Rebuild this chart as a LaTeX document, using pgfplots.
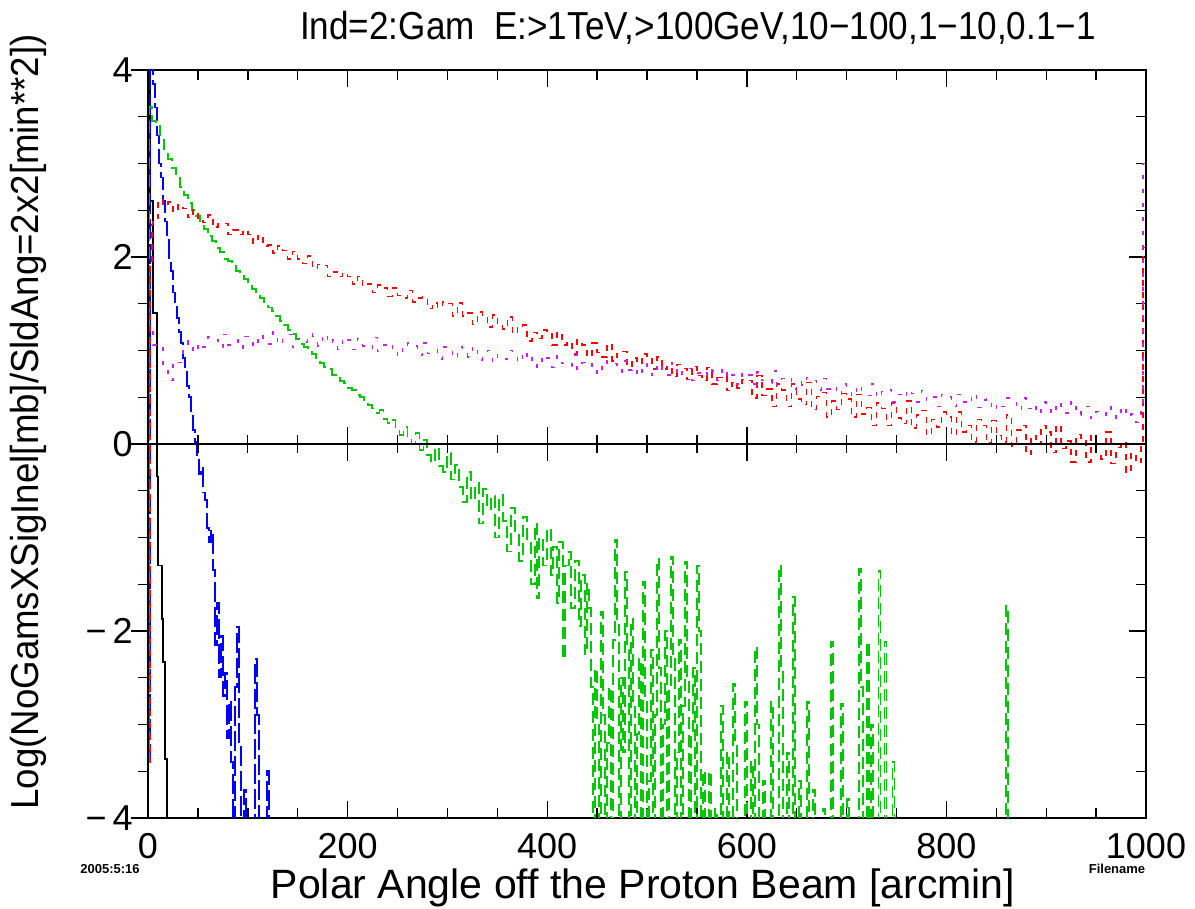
\documentclass[border=0pt]{standalone}
\usepackage{fontspec}
\setmainfont{Liberation Sans}
\usepackage{graphicx}
\usepackage{pgfplots}
\pgfplotsset{compat=1.18}
\definecolor{cred}{RGB}{255,0,0}
\definecolor{cgreen}{RGB}{0,200,0}
\definecolor{cblue}{RGB}{0,0,255}
\definecolor{cmag}{RGB}{200,30,240}
\pgfplotsset{
  base/.style={width=499pt,height=374pt,scale only axis,
    xmin=0,xmax=1000,ymin=-4,ymax=4,
    xtick={0,200,...,1000}, ytick={-4,-2,0,2,4},
    minor x tick num=3, minor y tick num=3,
    major tick length=8.5pt, minor tick length=5pt,
    tick style={black,line width=0.7pt},
    axis line style={line width=1pt}},
}
\begin{document}
\begin{tikzpicture}
\begin{axis}[base, name=ax, tick align=inside, xtick pos=both, ytick pos=right,
  yticklabels={}, xticklabels={0,200,400,600,800,1000},
  xticklabel style={font=\fontsize{18}{18}\selectfont, anchor=center, yshift=-14pt},
  every axis plot/.append style={line width=0.75pt, const plot}]
% >1 TeV
\addplot[black] coordinates {(0,4.6)(2,2.6)(5,1.4)(9,-0.35)(10,-1.3)(14,-1.87)(15,-2.33)(17,-3.37)(19,-5)(20,-5)};
% >100 GeV
\addplot[cblue, dash pattern=on 10pt off 2.5pt] coordinates {
(0,-3.4)(2,4.5)(5,3.85)(7,3.6)(9,3.3)(11,3.0)(13,2.85)(15,2.6)(17,2.38)(19,2.2)(21,1.98)(23,1.85)(25,1.62)(27,1.47)(29,1.35)(31,1.2)(33,1.08)(35,0.92)(37,0.8)(39,0.62)(41,0.5)(43,0.33)(45,0.15)(47,0.02)(49,-0.14)(51,-0.32)(53,-0.25)(55,-0.52)(57,-0.6)(59,-0.9)(61,-1.05)(63,-0.93)(65,-1.35)(67,-2.15)(69,-1.7)(71,-2.5)(73,-2.05)(75,-2.7)(77,-2.45)(79,-3.15)(81,-2.75)(83,-3.4)(85,-5)(87,-2.6)(89,-1.95)(91,-3.2)(93,-5)(96,-3.7)(98,-5)(107,-2.3)(109,-2.9)(111,-5)(119,-3.5)(121,-5)(122,-5)};
% 10-100 GeV
\addplot[cgreen, line width=0.95pt, dash pattern=on 6pt off 3pt] coordinates {
(0,-3.4)(1,3.6)(4,3.45)(8,3.4)(12,3.3)(16,3.15)(20,3.05)(24,2.95)(28,2.87)(32,2.75)(36,2.66)(40,2.58)(44,2.5)(48,2.44)(52,2.38)(56,2.3)(60,2.22)(64,2.17)(68,2.1)(72,2.05)(76,1.98)(80,1.96)(84,1.9)(88,1.85)(92,1.82)(96,1.76)(100,1.72)(104,1.66)(108,1.62)(112,1.56)(116,1.52)(120,1.46)(124,1.42)(128,1.37)(132,1.32)(136,1.27)(140,1.22)(144,1.18)(148,1.12)(152,1.07)(156,1.04)(160,0.98)(164,0.96)(168,0.9)(172,0.87)(176,0.82)(180,0.8)(184,0.74)(188,0.72)(192,0.67)(196,0.65)(200,0.6)(204,0.58)(208,0.52)(212,0.5)(216,0.45)(220,0.42)(224,0.38)(228,0.33)(232,0.36)(236,0.27)(240,0.22)(244,0.26)(248,0.14)(252,0.1)(256,0.18)(260,0.04)(264,0.0)(268,0.12)(272,-0.06)(276,0.04)(280,-0.12)(284,-0.2)(288,-0.04)(292,-0.24)(296,-0.3)(300,-0.1)(304,-0.38)(308,-0.22)(312,-0.46)(316,-0.62)(320,-0.3)(324,-0.6)(328,-0.42)(332,-0.85)(336,-0.48)(340,-0.7)(344,-0.56)(348,-1.0)(352,-0.55)(356,-0.82)(360,-1.15)(364,-0.68)(368,-0.95)(372,-1.25)(376,-0.78)(380,-1.05)(384,-1.5)(388,-0.85)(390,-1.65)(392,-1.0)(396,-1.3)(400,-0.9)(404,-1.4)(406,-1.1)(410,-1.7)(412,-1.05)(416,-2.3)(418,-1.3)(422,-1.15)(424,-1.75)(428,-1.25)(432,-1.95)(434,-1.4)(438,-2.25)(440,-1.5)(442,-1.75)(444,-2.6)
(446,-5)(448,-2.4)(450,-3.0)(452,-5)(454,-1.8)(456,-2.9)(458,-5)(460,-3.2)(462,-2.6)(464,-5)(466,-2.1)(468,-1.03)(470,-1.9)(472,-5)(474,-2.5)(476,-3.3)(478,-1.37)(480,-2.2)(482,-5)(484,-1.87)(486,-2.8)(488,-5)(490,-3.1)(492,-2.3)(494,-5)(496,-1.48)(498,-2.7)(500,-5)(502,-3.6)(504,-2.2)(506,-5)(508,-2.9)(510,-1.23)(512,-2.4)(514,-5)(516,-3.0)(518,-2.0)(520,-5)(522,-2.6)(524,-1.21)(526,-2.3)(528,-5)(530,-3.3)(532,-2.1)(534,-5)(536,-2.8)(538,-1.26)(540,-2.5)(542,-5)(544,-3.1)(546,-2.4)(548,-5)(550,-1.3)(552,-2.0)(554,-5)(556,-3.5)(558,-5)(562,-3.5)(564,-5)(568,-3.9)(570,-5)(574,-2.8)(576,-5)(580,-3.3)(582,-5)(586,-2.57)(588,-3.2)(590,-5)(598,-2.76)(600,-5)(604,-3.4)(606,-5)(608,-2.17)(610,-3.0)(612,-5)(616,-3.6)(618,-5)(624,-2.76)(626,-5)(632,-1.3)(634,-2.4)(636,-5)(640,-3.3)(642,-5)(646,-1.64)(648,-5)(652,-3.6)(654,-5)(660,-2.76)(662,-5)(666,-3.7)(668,-5)(676,-3.9)(678,-5)(684,-2.12)(686,-5)(694,-2.78)(696,-5)(700,-3.8)(702,-5)(712,-1.34)(714,-2.6)(716,-5)(720,-2.12)(722,-5)(724,-3.0)(726,-5)(732,-1.36)(734,-5)(738,-2.12)(740,-5)(746,-3.4)(748,-5)(860,-1.73)(862,-5)(870,-5)};
% 1-10 GeV
\addplot[cred, dash pattern=on 3pt off 3pt] coordinates {
(0,-3.4)(2,1.9)(4,2.35)(5,2.41)(10,2.61)(15,2.55)(20,2.59)(25,2.49)(30,2.56)(35,2.52)(40,2.42)(45,2.50)(50,2.41)(55,2.37)(60,2.45)(65,2.32)(70,2.36)(75,2.36)(80,2.24)(85,2.29)(90,2.24)(95,2.28)(100,2.24)(105,2.15)(110,2.23)(115,2.12)(120,2.13)(125,2.04)(130,2.12)(135,2.07)(140,1.98)(145,2.06)(150,1.98)(155,1.93)(160,2.01)(165,1.88)(170,1.92)(175,1.91)(180,1.79)(185,1.84)(190,1.79)(195,1.83)(200,1.79)(205,1.71)(210,1.79)(215,1.69)(220,1.71)(225,1.62)(230,1.70)(235,1.67)(240,1.58)(245,1.67)(250,1.59)(255,1.56)(260,1.64)(265,1.52)(270,1.56)(275,1.57)(280,1.45)(285,1.51)(290,1.46)(295,1.52)
(300,1.50)(305,1.37)(310,1.51)(315,1.37)(320,1.40)(325,1.28)(330,1.41)(335,1.37)(340,1.25)(345,1.38)(350,1.28)(355,1.23)(360,1.36)(365,1.18)(370,1.26)(375,1.27)(380,1.10)(385,1.19)(390,1.13)(395,1.22)(400,1.18)(405,1.06)(410,1.19)(415,1.06)(420,1.09)(425,0.97)(430,1.11)(435,1.06)(440,0.94)(445,1.08)(450,0.98)(455,0.93)(460,1.07)(465,0.89)(470,0.97)(475,0.99)(480,0.83)(485,0.92)(490,0.86)(495,0.96)(500,0.92)(505,0.80)(510,0.93)(515,0.80)(520,0.83)(525,0.72)(530,0.85)(535,0.81)(540,0.69)(545,0.83)(550,0.73)(555,0.68)(560,0.82)(565,0.64)(570,0.71)(575,0.73)(580,0.57)(585,0.66)(590,0.60)(595,0.69)
(600,0.68)(605,0.49)(610,0.73)(615,0.52)(620,0.59)(625,0.40)(630,0.64)(635,0.58)(640,0.40)(645,0.64)(650,0.48)(655,0.42)(660,0.66)(665,0.37)(670,0.51)(675,0.55)(680,0.29)(685,0.46)(690,0.37)(695,0.54)(700,0.48)(705,0.29)(710,0.53)(715,0.32)(720,0.39)(725,0.20)(730,0.44)(735,0.38)(740,0.20)(745,0.44)(750,0.28)(755,0.22)(760,0.46)(765,0.17)(770,0.31)(775,0.36)(780,0.10)(785,0.26)(790,0.18)(795,0.34)(800,0.29)(805,0.10)(810,0.34)(815,0.13)(820,0.20)(825,0.02)(830,0.26)(835,0.20)(840,0.01)(845,0.25)
(850,0.09)(855,0.02)(860,0.31)(865,-0.02)(870,0.15)(875,0.20)(880,-0.11)(885,0.09)(890,0.00)(895,0.20)(900,0.13)(905,-0.09)(910,0.20)(915,-0.05)(920,0.03)(925,-0.19)(930,0.10)(935,0.03)(940,-0.19)(945,0.10)(950,-0.09)(955,-0.16)(960,0.13)(965,-0.21)(970,-0.04)(975,0.01)(980,-0.30)(985,-0.10)(990,-0.20)(995,0.00)(997,2.1)(1000,2.1)};
% 0.1-1 GeV
\addplot[cmag, dash pattern=on 2pt off 5pt] coordinates {
(0,-3.4)(1,1.2)(5,1.06)(10,1.07)(15,0.84)(20,0.68)(25,0.89)(30,0.87)(35,1.01)(40,1.10)(45,0.98)(50,1.08)(55,1.04)(60,1.15)(65,1.12)(70,1.03)(75,1.17)(80,1.06)(85,1.11)(90,1.02)(95,1.15)(100,1.13)(105,1.04)(110,1.17)(115,1.09)(120,1.07)(125,1.20)(130,1.06)(135,1.14)(140,1.17)(145,1.04)(150,1.13)(155,1.09)(160,1.18)(165,1.15)(170,1.05)(175,1.18)(180,1.07)(185,1.11)(190,1.01)(195,1.14)(200,1.11)(205,1.01)(210,1.13)(215,1.05)(220,1.02)(225,1.14)(230,0.99)(235,1.06)(240,1.08)(245,0.95)(250,1.03)(255,0.99)(260,1.08)(265,1.05)(270,0.95)(275,1.08)(280,0.97)(285,1.01)(290,0.91)(295,1.04)
(300,1.01)(305,0.91)(310,1.04)(315,0.96)(320,0.93)(325,1.05)(330,0.90)(335,0.98)(340,1.00)(345,0.87)(350,0.95)(355,0.91)(360,1.00)(365,0.96)(370,0.87)(375,0.99)(380,0.88)(385,0.92)(390,0.82)(395,0.95)(400,0.92)(405,0.82)(410,0.94)(415,0.86)(420,0.83)(425,0.95)(430,0.80)(435,0.87)(440,0.89)(445,0.76)(450,0.84)(455,0.80)(460,0.89)(465,0.86)(470,0.77)(475,0.89)(480,0.79)(485,0.82)(490,0.73)(495,0.86)(500,0.83)(505,0.73)(510,0.86)(515,0.77)(520,0.74)(525,0.87)(530,0.72)(535,0.79)(540,0.81)(545,0.68)(550,0.76)(555,0.72)(560,0.81)(565,0.78)(570,0.68)(575,0.81)(580,0.70)(585,0.74)(590,0.64)(595,0.77)
(600,0.74)(605,0.64)(610,0.77)(615,0.68)(620,0.65)(625,0.78)(630,0.63)(635,0.70)(640,0.72)(645,0.59)(650,0.67)(655,0.63)(660,0.71)(665,0.68)(670,0.58)(675,0.70)(680,0.59)(685,0.62)(690,0.52)(695,0.64)(700,0.61)(705,0.51)(710,0.63)(715,0.55)(720,0.52)(725,0.64)(730,0.49)(735,0.56)(740,0.58)(745,0.45)(750,0.53)(755,0.49)(760,0.58)(765,0.54)(770,0.45)(775,0.57)(780,0.46)(785,0.50)(790,0.40)(795,0.53)(800,0.50)(805,0.40)(810,0.53)(815,0.45)(820,0.42)(825,0.54)(830,0.39)(835,0.47)(840,0.49)(845,0.36)(850,0.44)(855,0.40)(860,0.49)(865,0.46)(870,0.36)(875,0.49)(880,0.38)(885,0.42)(890,0.32)(895,0.45)(900,0.42)(905,0.32)(910,0.45)(915,0.36)(920,0.33)(925,0.46)(930,0.31)(935,0.38)(940,0.40)(945,0.27)(950,0.35)(955,0.31)(960,0.40)(965,0.37)(970,0.27)(975,0.40)(980,0.29)(985,0.32)(990,0.23)(995,0.35)(997,3.0)(1000,3.0)};
\end{axis}
% left y axis: outward ticks and labels
\begin{axis}[base, hide x axis, ytick pos=left, tick align=outside,
  yticklabels={−\,4,−\,2,0,2,4},
  yticklabel style={font=\fontsize{18}{18}\selectfont, anchor=east, inner sep=0pt, xshift=1pt}]
\end{axis}
% zero line with crossing ticks
\begin{axis}[base, axis x line=middle, axis y line=none, ytick=\empty,
  axis line style={-, line width=0.8pt}, tick align=center,
  major tick length=17pt, minor tick length=9pt, xticklabels={}]
\end{axis}
\node[font=\fontsize{19.5}{19.5}\selectfont] at ([xshift=275pt,yshift=395pt]ax.south west)
  {\scalebox{0.9}[1]{Ind=2:Gam\ \ E:>1TeV,>100GeV,10−100,1−10,0.1−1}};
\node[font=\fontsize{20.5}{20.5}\selectfont] at ([xshift=247.5pt,yshift=-35pt]ax.south west)
  {Polar Angle off the Proton Beam [arcmin]};
\node[font=\fontsize{19.5}{19.5}\selectfont, rotate=90] at ([xshift=-60pt,yshift=198pt]ax.south west)
  {\scalebox{0.94}[1]{Log(NoGamsXSigInel[mb]/SldAng=2x2[min**2])}};
\node[font=\bfseries\fontsize{6.5}{6.5}\selectfont] at ([xshift=-19pt,yshift=-25.5pt]ax.south west) {2005:5:16};
\node[font=\bfseries\fontsize{6.5}{6.5}\selectfont] at ([xshift=484.5pt,yshift=-25.5pt]ax.south west) {Filename};
\pgfresetboundingbox
\path[use as bounding box] ([xshift=-74pt,yshift=-45.5pt]ax.south west) rectangle ([xshift=24.5pt,yshift=35pt]ax.north east);
\end{tikzpicture}
\end{document}
